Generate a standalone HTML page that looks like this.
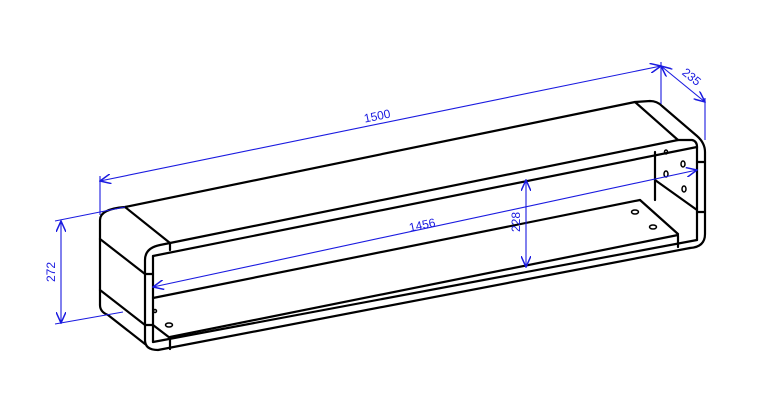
<!DOCTYPE html>
<html><head><meta charset="utf-8"><style>
html,body{margin:0;padding:0;background:#fff}
svg{display:block}
text{font-family:"Liberation Sans",sans-serif;font-size:12px;fill:#1a1ae0}
</style></head><body>
<svg width="772" height="404" viewBox="0 0 772 404" xmlns="http://www.w3.org/2000/svg">
<defs>
<marker id="a" viewBox="0 0 12 10" refX="11" refY="5" markerWidth="12" markerHeight="10" markerUnits="userSpaceOnUse" orient="auto-start-reverse">
<path d="M0,0 L11,5 L0,10" fill="none" stroke="#1a1ae0" stroke-width="1.5"/>
</marker>
</defs>
<g fill="none" stroke="#000" stroke-width="2.2" stroke-linecap="round" stroke-linejoin="round">
<path d="M100,305 L100,220 Q100,209 125,207 L635,102 L650,101 Q657,101 662,106 L697,136 Q705,143 705,152 L705,234 Q705,247 690,248"/>
<line x1="125" y1="207" x2="170" y2="243"/>
<line x1="635" y1="102" x2="678" y2="140"/>
<path d="M170,243 L678,140 L692,140 Q697,141 697,147"/>
<path d="M170,243 L160,245 Q145,248 145,260 L145,340 Q145,350 158,350 L690,248"/>
<line x1="170" y1="243" x2="170" y2="250"/>
<line x1="153" y1="256" x2="697" y2="147"/>
<line x1="153" y1="256" x2="153" y2="342"/>
<line x1="697" y1="147" x2="697" y2="240"/>
<line x1="153" y1="342" x2="697" y2="240"/>
<line x1="678" y1="236" x2="678" y2="247"/>
<line x1="170" y1="338" x2="170" y2="349"/>
<line x1="153" y1="325" x2="170" y2="338"/>
<line x1="100" y1="239" x2="145" y2="274"/>
<line x1="100" y1="290" x2="145" y2="325"/>
<path d="M100,305 Q100,312 108,315 L145,344"/>
<line x1="145" y1="274" x2="153" y2="274"/>
<line x1="145" y1="325" x2="153" y2="325"/>
<line x1="153" y1="298" x2="640" y2="200"/>
<line x1="170" y1="337" x2="678" y2="235"/>
<line x1="655" y1="152" x2="655" y2="200"/>
<line x1="655" y1="180" x2="697" y2="210"/>
<line x1="640" y1="200" x2="678" y2="234"/>
<line x1="697" y1="162" x2="705" y2="162"/>
<line x1="697" y1="212" x2="705" y2="212"/>
</g>
<g fill="none" stroke="#000" stroke-width="1.5">
<ellipse cx="169" cy="325" rx="3.5" ry="2"/>
<ellipse cx="155" cy="311" rx="1.5" ry="1.5"/>
<ellipse cx="635" cy="212" rx="3.5" ry="2"/>
<ellipse cx="653" cy="227" rx="3.5" ry="2"/>
<ellipse cx="666" cy="152" rx="1.5" ry="2"/>
<ellipse cx="683" cy="164" rx="2" ry="3"/>
<ellipse cx="666" cy="174" rx="2" ry="3"/>
<ellipse cx="684" cy="189" rx="2" ry="3"/>
</g>
<g stroke="#1a1ae0" stroke-width="1.1" fill="none">
<line x1="100" y1="181" x2="661" y2="66" marker-start="url(#a)" marker-end="url(#a)"/>
<line x1="100" y1="176" x2="100" y2="215"/>
<line x1="661" y1="62" x2="661" y2="104"/>
<line x1="661" y1="66" x2="705" y2="102" marker-start="url(#a)" marker-end="url(#a)"/>
<line x1="705" y1="98" x2="705" y2="140"/>
<line x1="61" y1="221" x2="61" y2="323" marker-start="url(#a)" marker-end="url(#a)"/>
<line x1="55" y1="221" x2="125" y2="207"/>
<line x1="55" y1="324" x2="123" y2="312"/>
<line x1="153" y1="287" x2="697" y2="170" marker-start="url(#a)" marker-end="url(#a)"/>
<line x1="526" y1="180" x2="526" y2="267" marker-start="url(#a)" marker-end="url(#a)"/>
</g>
<text transform="translate(378,120) rotate(-11.6)" text-anchor="middle">1500</text>
<text transform="translate(689,80) rotate(39)" text-anchor="middle">235</text>
<text transform="translate(55,272) rotate(-90)" text-anchor="middle">272</text>
<text transform="translate(423,229) rotate(-12)" text-anchor="middle">1456</text>
<text transform="translate(520,222) rotate(-90)" text-anchor="middle">228</text>
</svg>
</body></html>
